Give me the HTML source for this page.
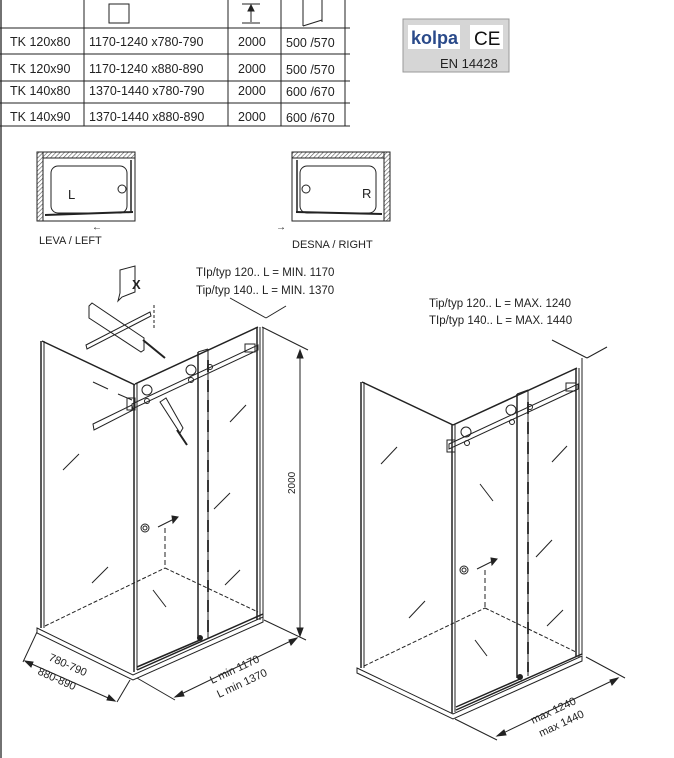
<!DOCTYPE html>
<html><head><meta charset="utf-8"><style>
html,body{margin:0;padding:0;background:#fff}
body{width:674px;height:758px;overflow:hidden;position:relative;font-family:"Liberation Sans",sans-serif}
svg{position:absolute;left:0;top:0}
</style></head><body>
<svg width="674" height="758" viewBox="0 0 674 758" xmlns="http://www.w3.org/2000/svg" font-family="Liberation Sans, sans-serif">
<defs>
<pattern id="h" width="3" height="3" patternUnits="userSpaceOnUse" patternTransform="rotate(45)"><rect width="3" height="3" fill="#fff"/><line x1="0" y1="0" x2="0" y2="3" stroke="#555" stroke-width="1.2"/></pattern>
</defs>
<!-- left border -->
<line x1="1" y1="0" x2="1" y2="758" stroke="#444" stroke-width="1.5"/>
<!-- table -->
<g stroke="#222" stroke-width="1" fill="none">
<line x1="0" y1="28" x2="350" y2="28"/><line x1="0" y1="54" x2="350" y2="54"/><line x1="0" y1="81" x2="350" y2="81"/><line x1="0" y1="103" x2="350" y2="103"/><line x1="0" y1="126" x2="350" y2="126"/>
<line x1="84" y1="0" x2="84" y2="126"/><line x1="228" y1="0" x2="228" y2="126"/><line x1="281" y1="0" x2="281" y2="126"/><line x1="345" y1="0" x2="345" y2="126"/>
<rect x="109" y="4" width="20" height="19"/>
<line x1="242" y1="4" x2="260" y2="4"/><line x1="242" y1="23" x2="260" y2="23"/><line x1="251" y1="6" x2="251" y2="22"/>
<polygon points="248,11 251,5 254,11" fill="#222"/>
<line x1="303" y1="0" x2="303" y2="26"/><line x1="322" y1="0" x2="322" y2="22"/><line x1="303" y1="26" x2="322" y2="20"/>
</g>
<g font-size="12.5" fill="#222">
<text x="10" y="46">TK 120x80</text><text x="89" y="46">1170-1240 x780-790</text><text x="238" y="46">2000</text><text x="286" y="47">500 /570</text>
<text x="10" y="73">TK 120x90</text><text x="89" y="73">1170-1240 x880-890</text><text x="238" y="73">2000</text><text x="286" y="74">500 /570</text>
<text x="10" y="95">TK 140x80</text><text x="89" y="95">1370-1440 x780-790</text><text x="238" y="95">2000</text><text x="286" y="96">600 /670</text>
<text x="10" y="121">TK 140x90</text><text x="89" y="121">1370-1440 x880-890</text><text x="238" y="121">2000</text><text x="286" y="122">600 /670</text>
</g>
<!-- logo -->
<rect x="403" y="19" width="106" height="53" fill="#d6d6d6" stroke="#999"/>
<rect x="408" y="25" width="52" height="24" fill="#fff"/>
<rect x="470" y="25" width="33" height="24" fill="#fff"/>
<text x="411" y="44" font-size="18" font-weight="bold" fill="#2a4a8a">kolpa</text>
<text x="474" y="45" font-size="19" fill="#111">CE</text>
<text x="440" y="68" font-size="13" fill="#222">EN 14428</text>
<!-- plan icons -->
<g stroke="#222" stroke-width="1" fill="none">
<rect x="37" y="152" width="98" height="6" fill="url(#h)"/>
<rect x="37" y="152" width="6" height="69" fill="url(#h)"/>
<rect x="43" y="158" width="92" height="63"/>
<rect x="51" y="166" width="76" height="47" rx="7"/>
<circle cx="122" cy="189" r="4"/>
<line x1="45" y1="215" x2="133" y2="212" stroke-width="2"/>
<line x1="131" y1="160" x2="131" y2="213" stroke-width="1.5"/>
<rect x="292" y="152" width="98" height="6" fill="url(#h)"/>
<rect x="384" y="152" width="6" height="69" fill="url(#h)"/>
<rect x="292" y="158" width="92" height="63"/>
<rect x="300" y="166" width="76" height="47" rx="7"/>
<circle cx="306" cy="189" r="4"/>
<line x1="296" y1="212" x2="382" y2="214" stroke-width="2"/>
<line x1="297" y1="160" x2="297" y2="213" stroke-width="1.5"/>
</g>
<text x="68" y="199" font-size="13" fill="#222">L</text>
<text x="362" y="198" font-size="13" fill="#222">R</text>
<text x="92" y="230" font-size="10" fill="#222">←</text>
<text x="276" y="230" font-size="10" fill="#222">→</text>
<text x="39" y="244" font-size="11" fill="#222">LEVA / LEFT</text>
<text x="292" y="248" font-size="11" fill="#222">DESNA / RIGHT</text>

<!-- LEFT DRAWING -->
<g stroke="#222" stroke-width="1" fill="none">
<!-- X sign -->
<polygon points="120,270 135,266 135,292 122,297 118,301 120,293"/>
<text x="132" y="289" font-size="13" fill="#222" stroke="none" font-weight="bold">X</text>
<!-- towel bar above -->
<path d="M89,306 L92,303 L144,338 L144,350 L141,352 L89,318 Z"/>
<path d="M86,345 L150,312 L151,316 L87,349 Z"/>
<line x1="143" y1="340" x2="165" y2="358" stroke-width="2"/>
<line x1="154" y1="305" x2="154" y2="330" stroke-dasharray="3,2"/>
<!-- posts -->
<line x1="41" y1="341" x2="41" y2="628" stroke-width="1.5"/><line x1="44" y1="341" x2="44" y2="628"/>
<line x1="42" y1="341" x2="135" y2="385" stroke-width="1.5"/>
<line x1="134" y1="384" x2="134" y2="672" stroke-width="1.5"/><line x1="137" y1="383" x2="137" y2="670"/>
<line x1="135" y1="384" x2="258" y2="327" stroke-width="1.5"/>
<line x1="257" y1="327" x2="257" y2="620" stroke-width="1.5"/><line x1="260" y1="327" x2="260" y2="620"/>
<line x1="263" y1="327" x2="263" y2="618"/>
<!-- rail -->
<path d="M132,404 L258,345 L258,350 L132,409 Z"/>
<rect x="127" y="398" width="8" height="12"/>
<rect x="245" y="344" width="10" height="8"/>
<circle cx="147" cy="390" r="5"/><circle cx="191" cy="370" r="5"/>
<circle cx="147" cy="401" r="2.5"/><circle cx="191" cy="380" r="2.5"/><circle cx="210" cy="367" r="2.5"/>
<!-- wall bar -->
<path d="M93,424 L132,405 L133,410 L94,430 Z"/>
<line x1="93" y1="382" x2="108" y2="389"/><line x1="118" y1="394" x2="132" y2="400"/>
<!-- handle -->
<path d="M160,402 L166,398 L183,428 L180,433 Z"/>
<line x1="177" y1="430" x2="187" y2="445" stroke-width="2"/>
<!-- door -->
<line x1="198" y1="352" x2="198" y2="638" stroke-width="1.5"/><line x1="208" y1="349" x2="208" y2="638"/>
<line x1="198" y1="352" x2="208" y2="349"/>
<line x1="208" y1="360" x2="208" y2="632" stroke-width="1.8" stroke-dasharray="12,8"/>
<!-- floor -->
<line x1="45" y1="626" x2="165" y2="568" stroke-dasharray="4,2"/>
<line x1="165" y1="568" x2="258" y2="612" stroke-dasharray="4,2"/>
<line x1="165" y1="528" x2="165" y2="568" stroke-dasharray="5,3"/>
<!-- tray -->
<path d="M37,628 L133,675 L263,617 L263,622 L133,680 L37,633 Z"/>
<line x1="137" y1="670" x2="263" y2="614" stroke-width="1.5"/>
<line x1="137" y1="667" x2="200" y2="640" stroke-width="1.5"/>
<circle cx="200" cy="638" r="2.5" fill="#222"/>
<!-- glass marks -->
<line x1="63" y1="470" x2="79" y2="454"/><line x1="92" y1="583" x2="108" y2="567"/>
<line x1="230" y1="422" x2="246" y2="405"/><line x1="214" y1="509" x2="230" y2="493"/><line x1="225" y1="585" x2="240" y2="570"/>
<line x1="153" y1="590" x2="166" y2="607"/>
<circle cx="145" cy="528" r="4"/><circle cx="145" cy="528" r="2"/>
<line x1="158" y1="527" x2="174" y2="519"/><polygon points="172,516 178,517 173,523" fill="#222"/>
<!-- dimensions -->
<line x1="230" y1="298" x2="266" y2="318"/><line x1="266" y1="318" x2="286" y2="306"/>
<line x1="262" y1="327" x2="308" y2="350"/>
<line x1="264" y1="620" x2="306" y2="640"/>
<line x1="300" y1="350" x2="300" y2="636"/>
<polygon points="297,358 300,350 303,358" fill="#222"/><polygon points="297,628 300,636 303,628" fill="#222"/>
<line x1="137" y1="678" x2="175" y2="700"/>
<line x1="175" y1="697" x2="297" y2="638"/>
<polygon points="175,697 182,691 184,696" fill="#222"/><polygon points="297,638 289,640 291,645" fill="#222"/>
<line x1="23" y1="662" x2="37" y2="632"/><line x1="117" y1="702" x2="130" y2="680"/>
<line x1="25" y1="661" x2="115" y2="701"/>
<polygon points="25,661 33,662 31,667" fill="#222"/><polygon points="115,701 107,700 109,695" fill="#222"/>
</g>
<text x="196" y="276" font-size="11.5" fill="#222">TIp/typ 120.. L = MIN. 1170</text>
<text x="196" y="294" font-size="11.5" fill="#222">Tip/typ 140.. L = MIN. 1370</text>
<text transform="translate(295,494) rotate(-90)" font-size="10" fill="#222">2000</text>
<text transform="translate(212,684) rotate(-25)" font-size="11" fill="#222">L  min  1170</text>
<text transform="translate(219,698) rotate(-25)" font-size="11" fill="#222">L  min  1370</text>
<text transform="translate(48,660) rotate(24)" font-size="11" fill="#222">780-790</text>
<text transform="translate(37,674) rotate(24)" font-size="11" fill="#222">880-890</text>

<!-- RIGHT DRAWING -->
<g stroke="#222" stroke-width="1" fill="none">
<line x1="361" y1="382" x2="361" y2="668" stroke-width="1.5"/><line x1="364" y1="382" x2="364" y2="668"/>
<line x1="362" y1="382" x2="453" y2="425" stroke-width="1.5"/>
<line x1="452" y1="425" x2="452" y2="713" stroke-width="1.5"/><line x1="455" y1="424" x2="455" y2="712"/>
<line x1="453" y1="425" x2="577" y2="368" stroke-width="1.5"/>
<line x1="576" y1="368" x2="576" y2="657" stroke-width="1.5"/><line x1="579" y1="368" x2="579" y2="657"/>
<line x1="582" y1="358" x2="582" y2="655"/>
<path d="M449,444 L578,384 L578,389 L449,449 Z"/>
<rect x="447" y="440" width="8" height="12"/><rect x="566" y="383" width="10" height="8"/>
<circle cx="466" cy="432" r="5"/><circle cx="511" cy="410" r="5"/>
<circle cx="467" cy="443" r="2.5"/><circle cx="512" cy="422" r="2.5"/><circle cx="530" cy="407" r="2.5"/>
<line x1="517" y1="394" x2="517" y2="678" stroke-width="1.5"/><line x1="528" y1="390" x2="528" y2="676"/>
<line x1="517" y1="394" x2="528" y2="390"/>
<line x1="528" y1="402" x2="528" y2="672" stroke-width="1.8" stroke-dasharray="12,8"/>
<line x1="364" y1="666" x2="485" y2="608" stroke-dasharray="4,2"/>
<line x1="485" y1="608" x2="576" y2="652" stroke-dasharray="4,2"/>
<line x1="485" y1="570" x2="485" y2="608" stroke-dasharray="5,3"/>
<path d="M357,668 L453,714 L582,656 L582,661 L453,719 L357,673 Z"/>
<line x1="456" y1="710" x2="582" y2="654" stroke-width="1.5"/>
<line x1="456" y1="707" x2="520" y2="679" stroke-width="1.5"/>
<circle cx="520" cy="677" r="2.5" fill="#222"/>
<line x1="381" y1="464" x2="397" y2="447"/><line x1="409" y1="618" x2="425" y2="601"/>
<line x1="552" y1="462" x2="567" y2="446"/><line x1="536" y1="557" x2="552" y2="540"/><line x1="547" y1="626" x2="563" y2="610"/>
<line x1="480" y1="484" x2="493" y2="501"/><line x1="475" y1="640" x2="487" y2="656"/>
<circle cx="464" cy="570" r="4"/><circle cx="464" cy="570" r="2"/>
<line x1="477" y1="569" x2="493" y2="561"/><polygon points="491,558 497,559 492,565" fill="#222"/>
<line x1="552" y1="340" x2="587" y2="358"/><line x1="587" y1="358" x2="607" y2="347"/>
<line x1="586" y1="657" x2="625" y2="678"/>
<line x1="455" y1="719" x2="497" y2="740"/>
<line x1="497" y1="736" x2="618" y2="678"/>
<polygon points="497,736 504,730 506,735" fill="#222"/><polygon points="618,678 610,680 612,685" fill="#222"/>
</g>
<text x="429" y="307" font-size="11.5" fill="#222">Tip/typ 120.. L = MAX. 1240</text>
<text x="429" y="324" font-size="11.5" fill="#222">TIp/typ 140.. L = MAX. 1440</text>
<text transform="translate(533,724) rotate(-25)" font-size="11" fill="#222">max  1240</text>
<text transform="translate(541,737) rotate(-25)" font-size="11" fill="#222">max  1440</text>
</svg>
</body></html>
